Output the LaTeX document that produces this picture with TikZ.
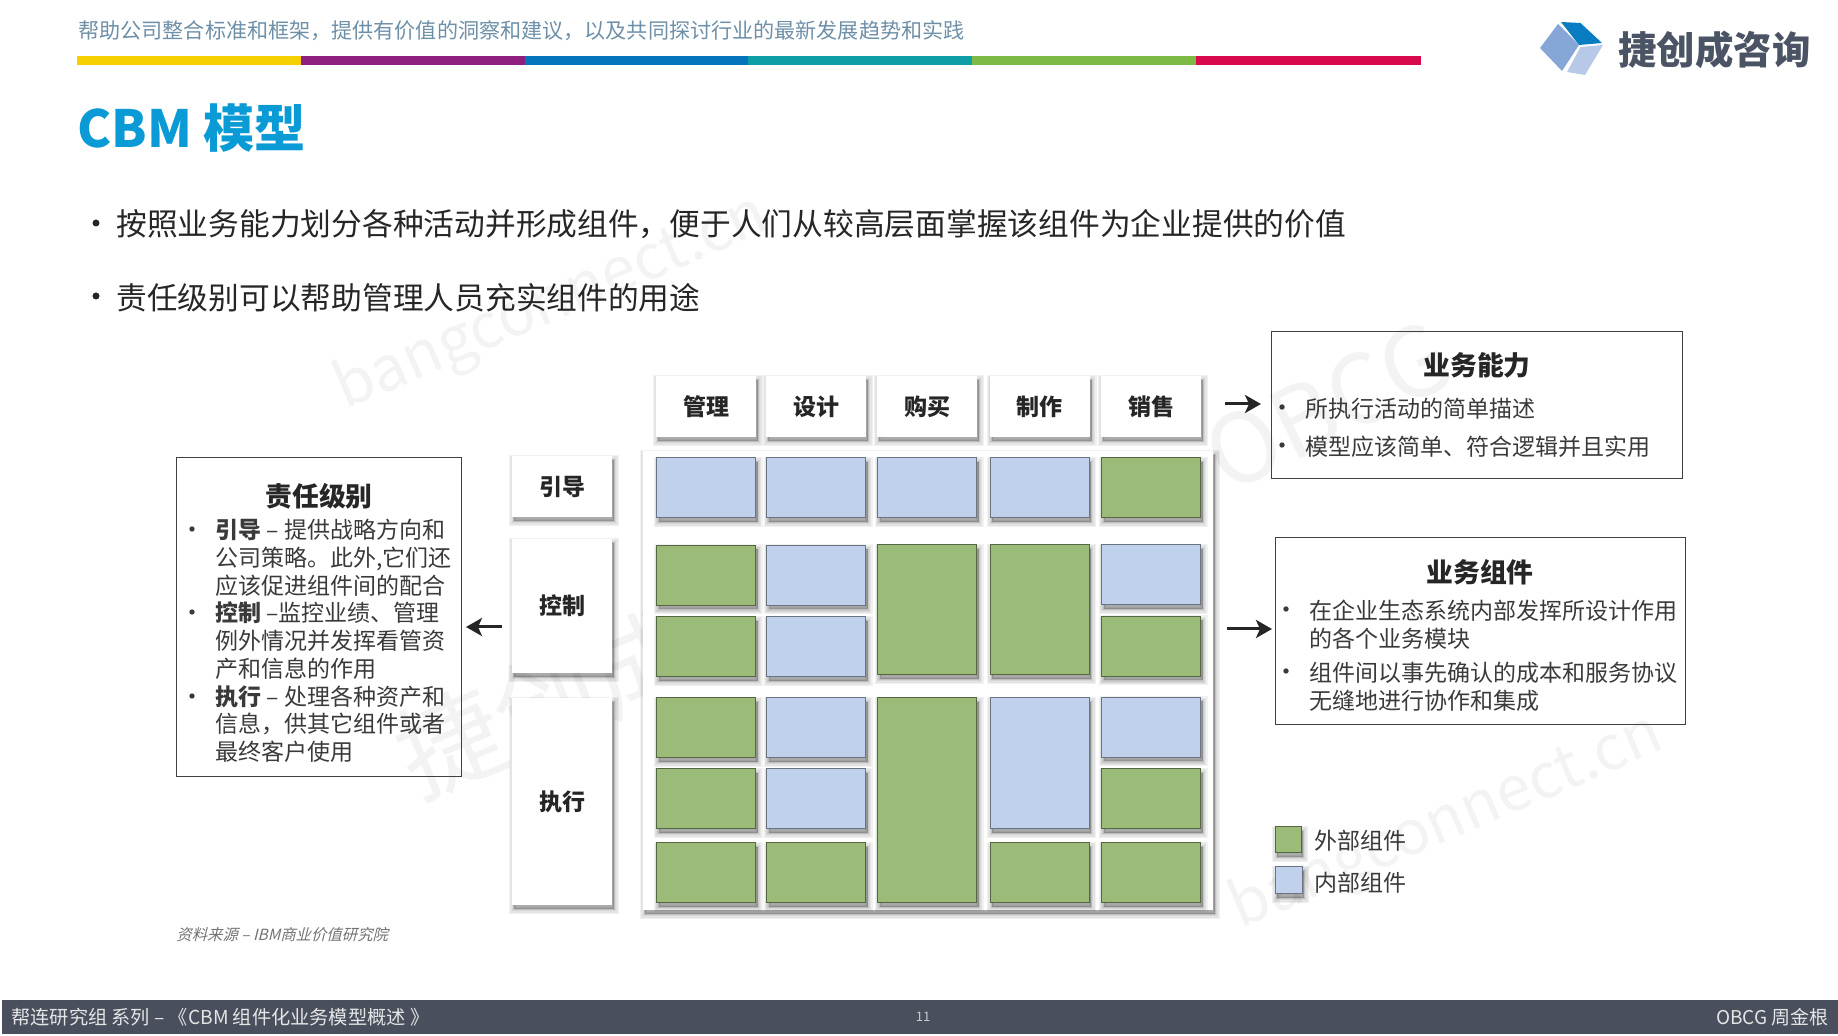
\documentclass[tikz,border=0pt]{standalone}
\usepackage{fontspec}
\setmainfont{Noto Sans CJK SC}
\newfontfamily\slantfont[FakeSlant=0.25]{Noto Sans CJK SC}
\usepackage{xcolor}
\usetikzlibrary{arrows.meta,positioning,shadows}
\definecolor{cellgreen}{HTML}{9BBB78}
\definecolor{cellblue}{HTML}{BFD1EB}
\definecolor{titleblue}{HTML}{0A9AD6}
\definecolor{darktext}{HTML}{3A3A3A}
\definecolor{linegray}{HTML}{6E8FA8}
\definecolor{footgray}{HTML}{4A4F5E}
\definecolor{logogray}{HTML}{4A5464}
\definecolor{logotop}{HTML}{0A7CC1}
\definecolor{logoleft}{HTML}{85A6D6}
\definecolor{logoright}{HTML}{B8C8E8}
\definecolor{markgray}{HTML}{F3F3F3}
\definecolor{baryellow}{HTML}{F5CF00}
\definecolor{barpurple}{HTML}{8E1F7E}
\definecolor{barblue}{HTML}{0474BC}
\definecolor{barteal}{HTML}{0E9EA5}
\definecolor{bargreen}{HTML}{7DB944}
\definecolor{barred}{HTML}{D80A4B}
\tikzset{
    softlayer/.style = {general shadow = {shadow xshift = 1pt, shadow yshift = -2pt, draw = black, fill = black, line width = #1, opacity = .055}},
    softshadow/.style = {softlayer = 5pt, softlayer = 3.6pt, softlayer = 2.4pt, softlayer = 1.4pt, softlayer = .6pt},
    labelbox/.style = {fill = white, inner sep = 0, outer sep = 0, minimum width = 50pt, softshadow,
        font = \fontsize{11.5}{13}\selectfont\bfseries, text = black!85},
    gridcell/.style = {inner sep = 0, outer sep = 0, minimum width = 49.5pt, minimum height = 30pt, line width = .5pt, softshadow},
    extcell/.style = {gridcell, fill = cellgreen, draw = cellgreen!55!black},
    intcell/.style = {gridcell, fill = cellblue, draw = cellblue!55!black},
    textbox/.style = {draw = black!75, line width = .5pt, inner sep = 0, outer sep = 0},
    boxtitle/.style = {font = \fontsize{13.4}{15}\selectfont\bfseries, text = black!85, inner sep = 0},
    boxtext/.style = {anchor = north west, align = left, inner sep = 0, text = darktext,
        font = \fontsize{11.5}{13.85}\selectfont},
    bullettext/.style = {anchor = west, inner sep = 0, text = black!85, font = \fontsize{15.37}{18}\selectfont},
    watermark/.style = {text = markgray, inner sep = 0, rotate = 23},
    arrowline/.style = {-{Stealth[length = 8pt, width = 9pt, inset = 2pt]}, line width = 1.5pt, draw = black!85}
}
\begin{document}
\begin{tikzpicture}[x = .5pt, y = -.5pt]
    \useasboundingbox (0,0) rectangle (1838,1036);
    % watermarks
    \node (markone) [watermark, font = \fontsize{31}{31}\selectfont] at (552,304) {bangconnect.cn};
    \node (marktwo) [watermark, font = \fontsize{31}{31}\selectfont] at (1447,823) {bangconnect.cn};
    \node (markthree) [watermark, rotate = 3, font = \fontsize{48}{48}\selectfont] at (1328,406) {OBCG};
    \node (markfour) [watermark, font = \fontsize{52}{52}\selectfont] at (642,662) {捷创成咨询};
    % header
    \node (topline) [anchor = west, inner sep = 0, text = linegray, font = \fontsize{10.55}{12}\selectfont] at (78,31) {帮助公司整合标准和框架，提供有价值的洞察和建议，以及共同探讨行业的最新发展趋势和实践};
    \fill[baryellow] (77,56) rectangle (301,65);
    \fill[barpurple] (301,56) rectangle (525,65);
    \fill[barblue] (525,56) rectangle (748,65);
    \fill[barteal] (748,56) rectangle (972,65);
    \fill[bargreen] (972,56) rectangle (1196,65);
    \fill[barred] (1196,56) rectangle (1421,65);
    \fill[logotop] (1561,22) -- (1580.5,23) -- (1602,43) -- (1579,45) -- cycle;
    \fill[logoleft] (1540,48) -- (1558,24) -- (1579,45) -- (1562,71) -- cycle;
    \fill[logoright] (1580.5,47) -- (1603,45) -- (1585,75) -- (1567,72) -- cycle;
    \node (logoname) [anchor = west, inner sep = 0, text = logogray, font = \fontsize{19.2}{21}\selectfont\bfseries] at (1618,50) {捷创成咨询};
    \node (pagetitle) [anchor = west, inner sep = 0, text = titleblue, font = \fontsize{25.6}{28}\selectfont\bfseries] at (77,128) {CBM 模型};
    \fill[black!85] (96,223) circle (1.75pt);
    \fill[black!85] (96,296) circle (1.75pt);
    \node (pointone) [bullettext] at (116,224) {按照业务能力划分各种活动并形成组件，便于人们从较高层面掌握该组件为企业提供的价值};
    \node (pointtwo) [bullettext] at (116,298) {责任级别可以帮助管理人员充实组件的用途};
    % responsibility levels
    \node (levelbox) [textbox, minimum width = 142.5pt, minimum height = 159.5pt] at (318.5,617.5) {};
    \node (leveltitle) [boxtitle, anchor = north] at (319,483) {责任级别};
    \node (leveltext) [boxtext] at (215,519) {\textbf{引导} – 提供战略方向和\\公司策略。此外,它们还\\应该促进组件间的配合\\\textbf{控制} –监控业绩、管理\\例外情况并发挥看管资\\产和信息的作用\\\textbf{执行} – 处理各种资产和\\信息，供其它组件或者\\最终客户使用};
    \fill[darktext] (192,529) circle (1.35pt);
    \fill[darktext] (192,612) circle (1.35pt);
    \fill[darktext] (192,696) circle (1.35pt);
    \node (lead) [labelbox, minimum height = 30.5pt] at (562,486.5) {引导};
    \node (ctrl) [labelbox, minimum height = 67pt] at (562,606) {控制};
    \node (exec) [labelbox, minimum height = 103.5pt] at (562,801.5) {执行};
    % component map
    \node (manage) [labelbox, minimum height = 30.5pt] at (706,406.5) {管理};
    \node (design) [labelbox, minimum height = 30.5pt] at (816,406.5) {设计};
    \node (buy) [labelbox, minimum height = 30.5pt] at (927,406.5) {购买};
    \node (make) [labelbox, minimum height = 30.5pt] at (1039.5,406.5) {制作};
    \node (sell) [labelbox, minimum height = 30.5pt] at (1151,406.5) {销售};
    \node (panel) [fill = white, inner sep = 0, outer sep = 0, minimum width = 285pt, minimum height = 229.5pt, softshadow] at (928,680.5) {};
    \node (cellaa) [intcell] at (706,488) {};
    \node (cellab) [intcell] at (816,488) {};
    \node (cellac) [intcell] at (927,488) {};
    \node (cellad) [intcell] at (1039.5,488) {};
    \node (cellae) [extcell] at (1151,488) {};
    \node (cellba) [extcell] at (706,575.5) {};
    \node (cellbb) [intcell] at (816,575.5) {};
    \node (cellbc) [extcell, minimum height = 65pt] at (927,610) {};
    \node (cellbd) [extcell, minimum height = 65pt] at (1039.5,610) {};
    \node (cellbe) [intcell] at (1151,575) {};
    \node (cellca) [extcell] at (706,647) {};
    \node (cellcb) [intcell] at (816,647) {};
    \node (cellce) [extcell] at (1151,646.5) {};
    \node (cellda) [extcell] at (706,728) {};
    \node (celldb) [intcell] at (816,728) {};
    \node (celldc) [extcell, minimum height = 102.5pt] at (927,800.5) {};
    \node (celldd) [intcell, minimum height = 65.5pt] at (1039.5,763.5) {};
    \node (cellde) [intcell] at (1151,727.5) {};
    \node (cellea) [extcell] at (706,799) {};
    \node (celleb) [intcell] at (816,799) {};
    \node (cellee) [extcell] at (1151,799) {};
    \node (cellfa) [extcell] at (706,873) {};
    \node (cellfb) [extcell] at (816,873) {};
    \node (cellfd) [extcell] at (1039.5,873) {};
    \node (cellfe) [extcell] at (1151,873) {};
    % right hand boxes
    \node (abilitybox) [textbox, minimum width = 205.5pt, minimum height = 73.5pt] at (1476.5,405.5) {};
    \node (abilitytitle) [boxtitle, anchor = north] at (1477,352) {业务能力};
    \node (abilitytext) [boxtext, font = \fontsize{11.5}{19}\selectfont] at (1305,398) {所执行活动的简单描述\\模型应该简单、符合逻辑并且实用};
    \fill[darktext] (1282,407) circle (1.35pt);
    \fill[darktext] (1282,445) circle (1.35pt);
    \node (compbox) [textbox, minimum width = 205pt, minimum height = 93.5pt] at (1480,631.5) {};
    \node (comptitle) [boxtitle, anchor = north] at (1480,559) {业务组件};
    \node (comptext) [boxtext] at (1309,600) {在企业生态系统内部发挥所设计作用\\的各个业务模块\\[3pt]组件间以事先确认的成本和服务协议\\无缝地进行协作和集成};
    \fill[darktext] (1286,609) circle (1.35pt);
    \fill[darktext] (1286,671) circle (1.35pt);
    \draw[arrowline, shorten <= 5pt, shorten >= 2.5pt] (ctrl.west |- 0,627) -- (levelbox.east |- 0,627);
    \draw[arrowline, shorten <= 12pt, shorten >= 5pt] (sell.east |- 0,404) -- (abilitybox.west |- 0,404);
    \draw[arrowline, shorten <= 7pt, shorten >= 1.5pt] (panel.east |- 0,629) -- (compbox.west |- 0,629);
    % legend
    \node (legext) [extcell, minimum width = 13pt, minimum height = 13pt] at (1288,840) {};
    \node (legint) [intcell, minimum width = 13.5pt, minimum height = 13.5pt] at (1288.5,880.5) {};
    \node (legextlabel) [inner sep = 0, text = darktext, font = \fontsize{11.5}{13}\selectfont, right = 6.5pt of legext, yshift = -.5pt] {外部组件};
    \node (legintlabel) [inner sep = 0, text = darktext, font = \fontsize{11.5}{13}\selectfont, right = 6pt of legint, yshift = -1pt] {内部组件};
    \node (source) [anchor = west, inner sep = 0, text = black!55, font = \fontsize{7.7}{10}\slantfont] at (176,935) {资料来源 – IBM商业价值研究院};
    % footer
    \fill[footgray] (2,1000) rectangle (1838,1034);
    \node (footleft) [anchor = west, inner sep = 0, text = white!90!black, font = \fontsize{9.6}{11}\selectfont] at (11,1017) {帮连研究组 系列 – 《CBM 组件化业务模型概述 》};
    \node (footpage) [inner sep = 0, text = white!80!black, font = \fontsize{6.5}{8}\selectfont] at (923,1017) {11};
    \node (footright) [anchor = east, inner sep = 0, text = white!90!black, font = \fontsize{9.5}{11}\selectfont] at (1829,1017) {OBCG 周金根};
\end{tikzpicture}
\end{document}
